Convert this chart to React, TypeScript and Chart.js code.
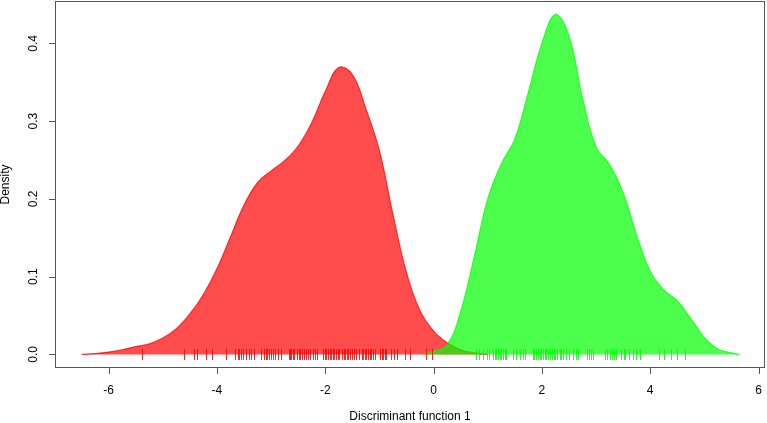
import React, { useEffect, useRef } from "react";
import { Chart, registerables } from "chart.js";

Chart.register(...registerables);

// Density of group 1 (red)
const redX = [-6.5, -6.25, -6.0, -5.75, -5.5, -5.25, -5.0, -4.75, -4.5, -4.25, -4.0, -3.75, -3.5, -3.25, -3.0, -2.75, -2.5, -2.25, -2.0, -1.75, -1.5, -1.25, -1.0, -0.75, -0.5, -0.25, 0.0, 0.25, 0.5, 0.75, 1.0];
const redY = [0.0, 0.001, 0.003, 0.006, 0.01, 0.0135, 0.021, 0.033, 0.052, 0.077, 0.11, 0.151, 0.192, 0.221, 0.236, 0.249, 0.268, 0.298, 0.338, 0.369, 0.36, 0.316, 0.262, 0.18, 0.105, 0.056, 0.03, 0.015, 0.006, 0.002, 0.0];

// Density of group 2 (green)
const greenX = [-0.2, 0.0, 0.25, 0.5, 0.75, 1.0, 1.25, 1.5, 1.75, 2.0, 2.25, 2.5, 2.75, 3.0, 3.25, 3.5, 3.75, 4.0, 4.25, 4.5, 4.75, 5.0, 5.25, 5.5, 5.65];
const greenY = [0.0, 0.004, 0.012, 0.055, 0.125, 0.2, 0.245, 0.277, 0.337, 0.4, 0.437, 0.41, 0.33, 0.267, 0.244, 0.208, 0.153, 0.107, 0.083, 0.069, 0.046, 0.022, 0.007, 0.002, 0.0];

// Rug (observations)
const redRug = [-5.38, -4.61, -4.42, -4.36, -4.2, -4.1, -3.83, -3.66, -3.62, -3.59, -3.55, -3.51, -3.46, -3.41, -3.37, -3.32, -3.19, -3.14, -3.1, -3.08, -3.04, -3.01, -2.97, -2.92, -2.87, -2.82, -2.67, -2.65, -2.63, -2.6, -2.57, -2.52, -2.49, -2.46, -2.42, -2.39, -2.36, -2.32, -2.28, -2.23, -2.18, -2.15, -2.04, -2.01, -1.98, -1.95, -1.92, -1.89, -1.86, -1.83, -1.8, -1.77, -1.74, -1.69, -1.66, -1.63, -1.6, -1.58, -1.55, -1.5, -1.46, -1.43, -1.37, -1.33, -1.31, -1.27, -1.24, -1.21, -1.18, -1.15, -1.12, -1.09, -0.98, -0.95, -0.93, -0.9, -0.88, -0.78, -0.73, -0.67, -0.53, -0.44, -0.14, -0.02];
const greenRug = [0.79, 0.84, 0.91, 0.98, 1.03, 1.1, 1.13, 1.16, 1.19, 1.22, 1.25, 1.28, 1.31, 1.34, 1.46, 1.53, 1.59, 1.65, 1.68, 1.83, 1.86, 1.9, 1.93, 1.96, 1.99, 2.02, 2.05, 2.08, 2.12, 2.15, 2.18, 2.22, 2.25, 2.28, 2.33, 2.36, 2.39, 2.45, 2.51, 2.57, 2.63, 2.66, 2.83, 2.87, 2.91, 2.95, 3.16, 3.2, 3.25, 3.29, 3.34, 3.37, 3.46, 3.51, 3.54, 3.6, 3.68, 3.74, 3.82, 4.16, 4.26, 4.39, 4.49, 4.65];

const xTicks = [-6, -4, -2, 0, 2, 4, 6];
const yTicks = [0.0, 0.1, 0.2, 0.3, 0.4];
const yTickLabels = ["0.0", "0.1", "0.2", "0.3", "0.4"];
const xTitle = "Discriminant function 1";
const yTitle = "Density";

const FONT = "12px 'Liberation Sans', Arial, sans-serif";

const axesPlugin = {
  id: "rAxes",
  afterDatasetsDraw(chart: any) {
    const { ctx, chartArea, scales } = chart;
    const xs = scales.x;
    const ys = scales.y;
    ctx.save();
    // rugs
    const y0 = Math.round(ys.getPixelForValue(0));
    ctx.lineWidth = 1;
    ctx.strokeStyle = "rgba(255,0,0,0.85)";
    ctx.beginPath();
    redRug.forEach((v) => {
      const px = Math.round(xs.getPixelForValue(v)) + 0.5;
      ctx.moveTo(px, y0 - 5);
      ctx.lineTo(px, y0 + 6);
    });
    ctx.stroke();
    ctx.strokeStyle = "rgba(0,255,0,0.85)";
    ctx.beginPath();
    greenRug.forEach((v) => {
      const px = Math.round(xs.getPixelForValue(v)) + 0.5;
      ctx.moveTo(px, y0 - 5);
      ctx.lineTo(px, y0 + 6);
    });
    ctx.stroke();

    // box
    ctx.strokeStyle = "#555";
    ctx.lineWidth = 1;
    ctx.strokeRect(chartArea.left + 0.5, chartArea.top + 0.5, chartArea.right - chartArea.left - 1, chartArea.bottom - chartArea.top - 1);

    // x ticks
    ctx.fillStyle = "#000";
    ctx.font = FONT;
    ctx.textAlign = "center";
    ctx.textBaseline = "middle";
    ctx.beginPath();
    xTicks.forEach((v) => {
      const px = Math.round(xs.getPixelForValue(v)) + 0.5;
      ctx.moveTo(px, chartArea.bottom);
      ctx.lineTo(px, chartArea.bottom + 6);
    });
    ctx.stroke();
    xTicks.forEach((v) => {
      const px = xs.getPixelForValue(v);
      ctx.fillText(String(v), px, chartArea.bottom + 23);
    });
    // y ticks
    ctx.beginPath();
    yTicks.forEach((v) => {
      const py = Math.round(ys.getPixelForValue(v)) + 0.5;
      ctx.moveTo(chartArea.left - 6, py);
      ctx.lineTo(chartArea.left, py);
    });
    ctx.stroke();
    yTicks.forEach((v, i) => {
      const py = ys.getPixelForValue(v);
      ctx.save();
      ctx.translate(chartArea.left - 21, py);
      ctx.rotate(-Math.PI / 2);
      ctx.fillText(yTickLabels[i], 0, 0);
      ctx.restore();
    });
    // titles
    ctx.fillText(xTitle, (chartArea.left + chartArea.right) / 2, chartArea.bottom + 49);
    ctx.save();
    ctx.translate(6, (chartArea.top + chartArea.bottom) / 2);
    ctx.rotate(-Math.PI / 2);
    ctx.fillText(yTitle, 0, 0);
    ctx.restore();
    ctx.restore();
  },
};

export default function App() {
  const ref = useRef<HTMLCanvasElement | null>(null);
  useEffect(() => {
    document.body.style.margin = "0";
    const canvas = ref.current;
    if (!canvas) return;
    const chart = new Chart(canvas, {
      type: "line",
      data: {
        datasets: [
          {
            label: "Group 1",
            data: redX.map((x, i) => ({ x, y: redY[i] })),
            borderColor: "rgba(255,0,0,0.75)",
            backgroundColor: "rgba(255,0,0,0.7)",
            borderWidth: 1.2,
            fill: "origin",
            pointRadius: 0,
            tension: 0.4,
            order: 2,
          },
          {
            label: "Group 2",
            data: greenX.map((x, i) => ({ x, y: greenY[i] })),
            borderColor: "rgba(0,255,0,0.75)",
            backgroundColor: "rgba(0,255,0,0.7)",
            borderWidth: 1.2,
            fill: "origin",
            pointRadius: 0,
            tension: 0.4,
            order: 1,
          },
        ],
      },
      options: {
        animation: false,
        responsive: false,
        maintainAspectRatio: false,
        layout: { padding: { left: 55, top: 1, right: 2, bottom: 55 } },
        plugins: { legend: { display: false }, tooltip: { enabled: false } },
        scales: {
          x: { type: "linear", display: false, min: -6.99, max: 6.12 },
          y: { type: "linear", display: false, min: -0.0175, max: 0.4545 },
        },
      },
      plugins: [axesPlugin],
    } as any);
    return () => chart.destroy();
  }, []);
  return (
    <div style={{ position: "absolute", left: 0, top: 0, width: 767, height: 423, background: "#fff" }}>
      <canvas ref={ref} width={767} height={423} style={{ width: 767, height: 423 }} />
    </div>
  );
}
